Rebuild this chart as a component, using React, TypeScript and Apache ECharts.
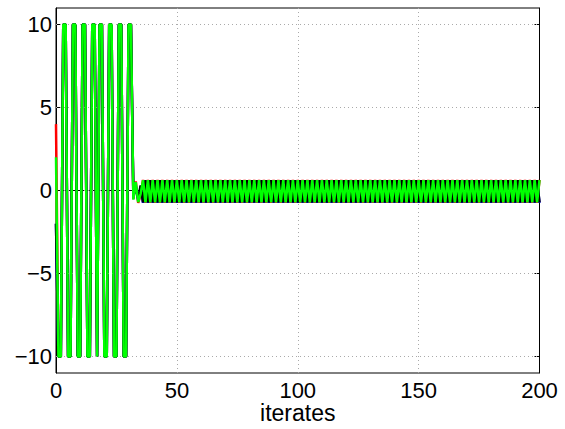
import React, { useEffect, useRef } from "react";
import * as echarts from "echarts";

// Tick values
const xTicks = [0, 50, 100, 150, 200];
const yTicks = [-10, -5, 0, 5, 10];

// Iterates 0..200 (index = iterate)
const greenSeries = [
  2, -10, -10, 10, 10, -10, -10, 10, 10, -10,
  -10, 10, 10, -10, -10, 10, 10, -10, 10, 10,
  -10, -10, 10, 10, -10, -10, 10, 10, -10, -10,
  10, 10, -0.55, 0.5, -0.7, -0.2, 0.62, -0.72, 0.62, -0.72,
  0.62, -0.72, 0.62, -0.72, 0.62, -0.72, 0.62, -0.72, 0.62, -0.72,
  0.62, -0.72, 0.62, -0.72, 0.62, -0.72, 0.62, -0.72, 0.62, -0.72,
  0.62, -0.72, 0.62, -0.72, 0.62, -0.72, 0.62, -0.72, 0.62, -0.72,
  0.62, -0.72, 0.62, -0.72, 0.62, -0.72, 0.62, -0.72, 0.62, -0.72,
  0.62, -0.72, 0.62, -0.72, 0.62, -0.72, 0.62, -0.72, 0.62, -0.72,
  0.62, -0.72, 0.62, -0.72, 0.62, -0.72, 0.62, -0.72, 0.62, -0.72,
  0.62, -0.72, 0.62, -0.72, 0.62, -0.72, 0.62, -0.72, 0.62, -0.72,
  0.62, -0.72, 0.62, -0.72, 0.62, -0.72, 0.62, -0.72, 0.62, -0.72,
  0.62, -0.72, 0.62, -0.72, 0.62, -0.72, 0.62, -0.72, 0.62, -0.72,
  0.62, -0.72, 0.62, -0.72, 0.62, -0.72, 0.62, -0.72, 0.62, -0.72,
  0.62, -0.72, 0.62, -0.72, 0.62, -0.72, 0.62, -0.72, 0.62, -0.72,
  0.62, -0.72, 0.62, -0.72, 0.62, -0.72, 0.62, -0.72, 0.62, -0.72,
  0.62, -0.72, 0.62, -0.72, 0.62, -0.72, 0.62, -0.72, 0.62, -0.72,
  0.62, -0.72, 0.62, -0.72, 0.62, -0.72, 0.62, -0.72, 0.62, -0.72,
  0.62, -0.72, 0.62, -0.72, 0.62, -0.72, 0.62, -0.72, 0.62, -0.72,
  0.62, -0.72, 0.62, -0.72, 0.62, -0.72, 0.62, -0.72, 0.62, -0.72,
  0.62,
];

const blackSeries = [
  -2, -10, -10, 10, 10, -10, -10, 10, 10, -10,
  -10, 10, 10, -10, -10, 10, 10, -10, 10, 10,
  -10, -10, 10, 10, -10, -10, 10, 10, -10, -10,
  10, 10, -0.3, 0.2, -0.5, 0.3, -0.72, 0.62, -0.72, 0.62,
  -0.72, 0.62, -0.72, 0.62, -0.72, 0.62, -0.72, 0.62, -0.72, 0.62,
  -0.72, 0.62, -0.72, 0.62, -0.72, 0.62, -0.72, 0.62, -0.72, 0.62,
  -0.72, 0.62, -0.72, 0.62, -0.72, 0.62, -0.72, 0.62, -0.72, 0.62,
  -0.72, 0.62, -0.72, 0.62, -0.72, 0.62, -0.72, 0.62, -0.72, 0.62,
  -0.72, 0.62, -0.72, 0.62, -0.72, 0.62, -0.72, 0.62, -0.72, 0.62,
  -0.72, 0.62, -0.72, 0.62, -0.72, 0.62, -0.72, 0.62, -0.72, 0.62,
  -0.72, 0.62, -0.72, 0.62, -0.72, 0.62, -0.72, 0.62, -0.72, 0.62,
  -0.72, 0.62, -0.72, 0.62, -0.72, 0.62, -0.72, 0.62, -0.72, 0.62,
  -0.72, 0.62, -0.72, 0.62, -0.72, 0.62, -0.72, 0.62, -0.72, 0.62,
  -0.72, 0.62, -0.72, 0.62, -0.72, 0.62, -0.72, 0.62, -0.72, 0.62,
  -0.72, 0.62, -0.72, 0.62, -0.72, 0.62, -0.72, 0.62, -0.72, 0.62,
  -0.72, 0.62, -0.72, 0.62, -0.72, 0.62, -0.72, 0.62, -0.72, 0.62,
  -0.72, 0.62, -0.72, 0.62, -0.72, 0.62, -0.72, 0.62, -0.72, 0.62,
  -0.72, 0.62, -0.72, 0.62, -0.72, 0.62, -0.72, 0.62, -0.72, 0.62,
  -0.72, 0.62, -0.72, 0.62, -0.72, 0.62, -0.72, 0.62, -0.72, 0.62,
  -0.72, 0.62, -0.72, 0.62, -0.72, 0.62, -0.72, 0.62, -0.72, 0.62,
  -0.72,
];

const redSeries = [
  4, -10, -10, 10, 10, -10, -10, 10, 10, -10,
  -10, 10, 10, -10, -10, 10, 10, -10, 10, 10,
  -10, -10, 10, 10, -10, -10, 10, 10, -10, -10,
  10, 10, -0.5, 0.55, -0.74, -0.25, 0.64, -0.74, 0.64, -0.74,
  0.64, -0.74, 0.64, -0.74, 0.64, -0.74, 0.64, -0.74, 0.64, -0.74,
  0.64, -0.74, 0.64, -0.74, 0.64, -0.74, 0.64, -0.74, 0.64, -0.74,
  0.64, -0.74, 0.64, -0.74, 0.64, -0.74, 0.64, -0.74, 0.64, -0.74,
  0.64, -0.74, 0.64, -0.74, 0.64, -0.74, 0.64, -0.74, 0.64, -0.74,
  0.64, -0.74, 0.64, -0.74, 0.64, -0.74, 0.64, -0.74, 0.64, -0.74,
  0.64, -0.74, 0.64, -0.74, 0.64, -0.74, 0.64, -0.74, 0.64, -0.74,
  0.64, -0.74, 0.64, -0.74, 0.64, -0.74, 0.64, -0.74, 0.64, -0.74,
  0.64, -0.74, 0.64, -0.74, 0.64, -0.74, 0.64, -0.74, 0.64, -0.74,
  0.64, -0.74, 0.64, -0.74, 0.64, -0.74, 0.64, -0.74, 0.64, -0.74,
  0.64, -0.74, 0.64, -0.74, 0.64, -0.74, 0.64, -0.74, 0.64, -0.74,
  0.64, -0.74, 0.64, -0.74, 0.64, -0.74, 0.64, -0.74, 0.64, -0.74,
  0.64, -0.74, 0.64, -0.74, 0.64, -0.74, 0.64, -0.74, 0.64, -0.74,
  0.64, -0.74, 0.64, -0.74, 0.64, -0.74, 0.64, -0.74, 0.64, -0.74,
  0.64, -0.74, 0.64, -0.74, 0.64, -0.74, 0.64, -0.74, 0.64, -0.74,
  0.64, -0.74, 0.64, -0.74, 0.64, -0.74, 0.64, -0.74, 0.64, -0.74,
  0.64, -0.74, 0.64, -0.74, 0.64, -0.74, 0.64, -0.74, 0.64, -0.74,
  0.64,
];

const blueSeries = [
  -2, -10, -10, 10, 10, -10, -10, 10, 10, -10,
  -10, 10, 10, -10, -10, 10, 10, -10, 10, 10,
  -10, -10, 10, 10, -10, -10, 10, 10, -10, -10,
  10, 10, -0.4, 0.3, -0.6, 0.25, -0.74, 0.6, -0.74, 0.6,
  -0.74, 0.6, -0.74, 0.6, -0.74, 0.6, -0.74, 0.6, -0.74, 0.6,
  -0.74, 0.6, -0.74, 0.6, -0.74, 0.6, -0.74, 0.6, -0.74, 0.6,
  -0.74, 0.6, -0.74, 0.6, -0.74, 0.6, -0.74, 0.6, -0.74, 0.6,
  -0.74, 0.6, -0.74, 0.6, -0.74, 0.6, -0.74, 0.6, -0.74, 0.6,
  -0.74, 0.6, -0.74, 0.6, -0.74, 0.6, -0.74, 0.6, -0.74, 0.6,
  -0.74, 0.6, -0.74, 0.6, -0.74, 0.6, -0.74, 0.6, -0.74, 0.6,
  -0.74, 0.6, -0.74, 0.6, -0.74, 0.6, -0.74, 0.6, -0.74, 0.6,
  -0.74, 0.6, -0.74, 0.6, -0.74, 0.6, -0.74, 0.6, -0.74, 0.6,
  -0.74, 0.6, -0.74, 0.6, -0.74, 0.6, -0.74, 0.6, -0.74, 0.6,
  -0.74, 0.6, -0.74, 0.6, -0.74, 0.6, -0.74, 0.6, -0.74, 0.6,
  -0.74, 0.6, -0.74, 0.6, -0.74, 0.6, -0.74, 0.6, -0.74, 0.6,
  -0.74, 0.6, -0.74, 0.6, -0.74, 0.6, -0.74, 0.6, -0.74, 0.6,
  -0.74, 0.6, -0.74, 0.6, -0.74, 0.6, -0.74, 0.6, -0.74, 0.6,
  -0.74, 0.6, -0.74, 0.6, -0.74, 0.6, -0.74, 0.6, -0.74, 0.6,
  -0.74, 0.6, -0.74, 0.6, -0.74, 0.6, -0.74, 0.6, -0.74, 0.6,
  -0.74, 0.6, -0.74, 0.6, -0.74, 0.6, -0.74, 0.6, -0.74, 0.6,
  -0.74,
];

const FONT = "'Liberation Sans', Arial, Helvetica, sans-serif";

const toPairs = (arr: number[]) => arr.map((v, i) => [i, v]);

export default function App() {
  const ref = useRef<HTMLDivElement>(null);
  useEffect(() => {
    if (!ref.current) return;
    const chart = echarts.init(ref.current, undefined, { renderer: "svg" });
    const line = (name: string, data: number[], color: string, z: number) => ({
      name,
      type: "line",
      data: toPairs(data),
      showSymbol: false,
      symbol: "none",
      lineStyle: { color, width: 2.5 },
      z,
    });
    chart.setOption({
      animation: false,
      backgroundColor: "#ffffff",
      grid: {
        left: 56,
        right: 25.5,
        top: 8,
        bottom: 56,
        outerBoundsMode: "none",
        containLabel: false,
        show: true,
        borderColor: "#000",
        borderWidth: 1,
        backgroundColor: "transparent",
      },
      xAxis: [
        {
          type: "value",
          min: xTicks[0],
          max: xTicks[xTicks.length - 1],
          interval: 50,
          name: "iterates",
          nameLocation: "middle",
          nameGap: 29,
          nameMoveOverlap: false,
          nameTextStyle: { fontFamily: FONT, fontSize: 23, color: "#000", lineHeight: 22, verticalAlign: "top" },
          axisLine: { show: true, lineStyle: { color: "#000", width: 1 } },
          axisTick: { show: true, inside: true, length: 5, lineStyle: { color: "#000" } },
          axisLabel: { fontFamily: FONT, fontSize: 22, lineHeight: 22, color: "#000", margin: 6 },
          splitLine: { show: true, lineStyle: { color: "#aaa", type: [1, 3], width: 1 } },
        },
        {
          type: "value",
          position: "top",
          min: xTicks[0],
          max: xTicks[xTicks.length - 1],
          interval: 50,
          axisLine: { show: true, lineStyle: { color: "#000", width: 1 } },
          axisTick: { show: true, inside: true, length: 5, lineStyle: { color: "#000" } },
          axisLabel: { show: false },
          splitLine: { show: false },
        },
      ],
      yAxis: [
        {
          type: "value",
          min: -11,
          max: 11,
          interval: 5,
          axisLine: { show: true, onZero: false, lineStyle: { color: "#000", width: 1 } },
          axisTick: { show: true, inside: true, length: 5, lineStyle: { color: "#000" }, customValues: yTicks },
          axisLabel: {
            fontFamily: FONT,
            fontSize: 22,
            color: "#000",
            margin: 4,
            customValues: yTicks,
            formatter: (v: number) => String(v).replace("-", "\u2212"),
          },
          splitLine: { show: false },
        },
        {
          type: "value",
          position: "right",
          min: -11,
          max: 11,
          interval: 5,
          axisLine: { show: true, onZero: false, lineStyle: { color: "#000", width: 1 } },
          axisTick: { show: true, inside: true, length: 5, lineStyle: { color: "#000" }, customValues: yTicks },
          axisLabel: { show: false },
          splitLine: { show: false },
        },
      ],
      series: [
        line("red", redSeries, "#ff0000", 2),
        line("blue", blueSeries, "#0000ff", 3),
        line("black", blackSeries, "#000000", 4),
        line("green", greenSeries, "#00ff00", 5),
        {
          type: "line",
          data: [],
          markLine: {
            silent: true,
            symbol: "none",
            label: { show: false },
            lineStyle: { color: "#aaa", type: [1, 3], width: 1 },
            data: yTicks.map((v) => ({ yAxis: v })),
          },
          z: 1,
        },
      ],
    });
    return () => chart.dispose();
  }, []);
  return (
    <div
      ref={ref}
      style={{ position: "absolute", left: 0, top: 0, width: 565, height: 429, background: "#fff" }}
    />
  );
}
